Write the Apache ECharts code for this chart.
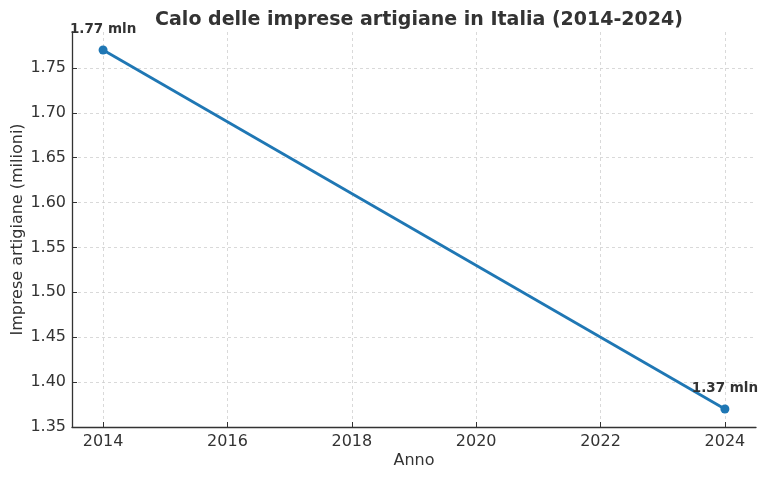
<!DOCTYPE html>
<html>
<head>
<meta charset="utf-8">
<script src="https://cdn.jsdelivr.net/npm/echarts@6/dist/echarts.min.js"></script>
<style>html,body{margin:0;padding:0;background:#fff}#c{width:768px;height:479px}</style>
</head>
<body>
<div id="c"></div>
<script>
const years = [2014, 2024];
const values = [1.77, 1.37];
const pointLabels = ['1.77 mln', '1.37 mln'];
const xTicks = [2014, 2016, 2018, 2020, 2022, 2024];
const yTicks = [1.35, 1.40, 1.45, 1.50, 1.55, 1.60, 1.65, 1.70, 1.75];

const font = 'DejaVu Sans';
const chart = echarts.init(document.getElementById('c'), null, {renderer: 'canvas'});
chart.setOption({
  animation: false,
  backgroundColor: '#fff',
  title: {
    text: 'Calo delle imprese artigiane in Italia (2014-2024)',
    left: 414, top: 6, textAlign: 'center',
    textStyle: {fontFamily: font, fontSize: 19, fontWeight: 'bold', color: '#333'}
  },
  grid: {left: 72, right: 12, top: 32, bottom: 52, containLabel: false, outerBoundsMode: 'none'},
  xAxis: {
    type: 'value', min: 2013.5, max: 2024.5,
    name: 'Anno', nameLocation: 'middle', nameGap: 26, nameMoveOverlap: false,
    nameTextStyle: {fontFamily: font, fontSize: 16, color: '#333'},
    axisLine: {show: true, onZero: false, lineStyle: {color: '#333', width: 1.3}},
    axisTick: {show: true, inside: true, length: 5, customValues: xTicks, lineStyle: {color: '#333'}},
    axisLabel: {customValues: xTicks, fontFamily: font, fontSize: 16, color: '#333', margin: 7,
      formatter: v => String(v)},
    splitLine: {show: true, lineStyle: {color: '#d0d0d0', type: [3, 3], width: 0.8}}
  },
  yAxis: {
    type: 'value', min: 1.35, max: 1.79,
    name: 'Imprese artigiane (milioni)', nameLocation: 'middle', nameGap: 46, nameMoveOverlap: false,
    nameTextStyle: {fontFamily: font, fontSize: 16, color: '#333'},
    axisLine: {show: true, onZero: false, lineStyle: {color: '#333', width: 1.3}},
    axisTick: {show: true, inside: true, length: 5, customValues: yTicks, lineStyle: {color: '#333'}},
    axisLabel: {customValues: yTicks, fontFamily: font, fontSize: 16, color: '#333', margin: 6,
      formatter: v => v.toFixed(2)},
    splitLine: {show: true, lineStyle: {color: '#d0d0d0', type: [3, 3], width: 0.8}}
  },
  series: [{
    type: 'line',
    data: years.map((y, i) => ({
      value: [y, values[i]],
      label: {show: true, position: 'top', distance: 9, formatter: pointLabels[i]}
    })),
    symbol: 'circle', symbolSize: 9,
    itemStyle: {color: '#1f77b4'},
    lineStyle: {color: '#1f77b4', width: 2.8},
    label: {fontFamily: font, fontSize: 13.5, fontWeight: 'bold', color: '#333'},
    clip: false
  }]
});
</script>
</body>
</html>
